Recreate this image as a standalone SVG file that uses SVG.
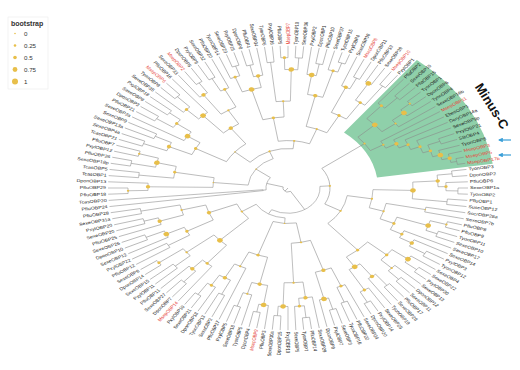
<svg xmlns="http://www.w3.org/2000/svg" width="520" height="370" viewBox="0 0 520 370">
<style>
#c path,#c circle{fill:none;stroke:#8a8a8a;stroke-width:.6}
#dots circle{fill:#e8bf4a}
.lb text{font-family:"Liberation Sans",Arial,sans-serif;font-size:5.3px;fill:#262626;dominant-baseline:central}
.lb .e{text-anchor:end}
.lb .r{fill:#e6453a}
.lg text{font-family:"Liberation Sans",Arial,sans-serif;fill:#333}
</style>
<defs>
<marker id="ah" viewBox="0 0 10 10" refX="8" refY="5" markerWidth="4" markerHeight="4" orient="auto"><path d="M0 0L10 5L0 10z" fill="#3a9fd8"/></marker>
</defs>
<rect width="520" height="370" fill="#fff"/>
<g transform="translate(288,188) scale(1,0.79)">
<path id="minusC-bg" d="M128.9 -162 A207 207 0 0 1 204.7 -30.6 L89 -13.3 A90 90 0 0 0 56 -70.4 Z" fill="#8fd0aa"/>
<g id="c">
<path d="M0 0H5" transform="rotate(126.9)"/>
<path d="M5 0H22" transform="rotate(195.27)"/>
<path d="M22 0H25" transform="rotate(173.75)"/>
<path d="M22 0H40" transform="rotate(216.8)"/>
<path d="M40 0H75" transform="rotate(185.31)"/>
<path d="M40 0H50" transform="rotate(248.28)"/>
<path d="M50 0H70" transform="rotate(220.7)"/>
<path d="M50 0H60" transform="rotate(275.86)"/>
<path d="M5 0H32" transform="rotate(58.52)"/>
<path d="M32 0H42" transform="rotate(-3.715)"/>
<path d="M32 0H38" transform="rotate(120.75)"/>
<path d="M42 0H95" transform="rotate(-36.28)"/>
<path d="M42 0H60" transform="rotate(28.85)"/>
<path d="M38 0H45" transform="rotate(94.38)"/>
<path d="M38 0H55" transform="rotate(147.11)"/>
<path d="M95 0H118" transform="rotate(-42.66)"/>
<path d="M118 0H140" transform="rotate(-48.125)"/>
<path d="M140 0H158" transform="rotate(-46.25)"/>
<path d="M118 0H135" transform="rotate(-37.19)"/>
<path d="M135 0H150" transform="rotate(-39.375)"/>
<path d="M150 0H162" transform="rotate(-41.25)"/>
<path d="M95 0H110" transform="rotate(-29.9)"/>
<path d="M110 0H122" transform="rotate(-27.29)"/>
<path d="M122 0H132" transform="rotate(-24.57)"/>
<path d="M132 0H142" transform="rotate(-21.64)"/>
<path d="M142 0H150" transform="rotate(-18.28)"/>
<path d="M150 0H163" transform="rotate(-21.25)"/>
<path d="M150 0H158" transform="rotate(-15.31)"/>
<path d="M158 0H166" transform="rotate(-13.125)"/>
<path d="M166 0H172" transform="rotate(-11.25)"/>
<path d="M60 0H85" transform="rotate(9.26)"/>
<path d="M85 0H125" transform="rotate(1.406)"/>
<path d="M125 0H150" transform="rotate(-3.4375)"/>
<path d="M150 0H165" transform="rotate(-6.25)"/>
<path d="M150 0H158" transform="rotate(-0.625)"/>
<path d="M158 0H170" transform="rotate(1.25)"/>
<path d="M125 0H160" transform="rotate(6.25)"/>
<path d="M85 0H100" transform="rotate(17.11)"/>
<path d="M100 0H140" transform="rotate(11.25)"/>
<path d="M100 0H115" transform="rotate(22.97)"/>
<path d="M115 0H148" transform="rotate(18.75)"/>
<path d="M148 0H165" transform="rotate(16.25)"/>
<path d="M148 0H160" transform="rotate(21.25)"/>
<path d="M115 0H128" transform="rotate(27.19)"/>
<path d="M128 0H142" transform="rotate(29.375)"/>
<path d="M142 0H160" transform="rotate(31.25)"/>
<path d="M60 0H105" transform="rotate(48.44)"/>
<path d="M105 0H130" transform="rotate(40.625)"/>
<path d="M130 0H150" transform="rotate(36.875)"/>
<path d="M150 0H165" transform="rotate(38.75)"/>
<path d="M130 0H145" transform="rotate(44.375)"/>
<path d="M145 0H160" transform="rotate(46.25)"/>
<path d="M105 0H120" transform="rotate(56.25)"/>
<path d="M120 0H140" transform="rotate(53.125)"/>
<path d="M140 0H158" transform="rotate(51.25)"/>
<path d="M120 0H150" transform="rotate(59.375)"/>
<path d="M150 0H165" transform="rotate(61.25)"/>
<path d="M45 0H70" transform="rotate(79.3)"/>
<path d="M70 0H110" transform="rotate(71.25)"/>
<path d="M110 0H135" transform="rotate(66.875)"/>
<path d="M135 0H155" transform="rotate(68.75)"/>
<path d="M110 0H145" transform="rotate(75.625)"/>
<path d="M145 0H160" transform="rotate(73.75)"/>
<path d="M70 0H120" transform="rotate(87.34)"/>
<path d="M120 0H140" transform="rotate(82.81)"/>
<path d="M140 0H150" transform="rotate(85.625)"/>
<path d="M150 0H165" transform="rotate(83.75)"/>
<path d="M120 0H150" transform="rotate(91.875)"/>
<path d="M150 0H162" transform="rotate(93.75)"/>
<path d="M45 0H90" transform="rotate(109.45)"/>
<path d="M90 0H125" transform="rotate(103.125)"/>
<path d="M125 0H150" transform="rotate(99.375)"/>
<path d="M150 0H160" transform="rotate(101.25)"/>
<path d="M125 0H140" transform="rotate(106.875)"/>
<path d="M140 0H158" transform="rotate(108.75)"/>
<path d="M90 0H110" transform="rotate(115.78)"/>
<path d="M110 0H130" transform="rotate(119.06)"/>
<path d="M130 0H150" transform="rotate(116.25)"/>
<path d="M130 0H145" transform="rotate(121.875)"/>
<path d="M145 0H162" transform="rotate(123.75)"/>
<path d="M55 0H95" transform="rotate(135.78)"/>
<path d="M95 0H125" transform="rotate(130.31)"/>
<path d="M125 0H140" transform="rotate(133.125)"/>
<path d="M140 0H158" transform="rotate(131.25)"/>
<path d="M95 0H130" transform="rotate(141.25)"/>
<path d="M130 0H150" transform="rotate(138.75)"/>
<path d="M130 0H160" transform="rotate(143.75)"/>
<path d="M55 0H85" transform="rotate(158.44)"/>
<path d="M85 0H115" transform="rotate(151.56)"/>
<path d="M115 0H140" transform="rotate(148.75)"/>
<path d="M115 0H135" transform="rotate(154.375)"/>
<path d="M135 0H155" transform="rotate(156.25)"/>
<path d="M85 0H110" transform="rotate(165.31)"/>
<path d="M110 0H135" transform="rotate(161.875)"/>
<path d="M135 0H150" transform="rotate(163.75)"/>
<path d="M110 0H150" transform="rotate(168.75)"/>
<path d="M75 0H140" transform="rotate(180.625)"/>
<path d="M140 0H160" transform="rotate(178.75)"/>
<path d="M75 0H115" transform="rotate(190)"/>
<path d="M115 0H150" transform="rotate(186.25)"/>
<path d="M115 0H135" transform="rotate(193.75)"/>
<path d="M135 0H160" transform="rotate(191.25)"/>
<path d="M135 0H155" transform="rotate(196.25)"/>
<path d="M70 0H105" transform="rotate(208.44)"/>
<path d="M105 0H130" transform="rotate(203.75)"/>
<path d="M130 0H155" transform="rotate(201.25)"/>
<path d="M130 0H148" transform="rotate(206.25)"/>
<path d="M105 0H120" transform="rotate(213.125)"/>
<path d="M120 0H138" transform="rotate(216.25)"/>
<path d="M138 0H158" transform="rotate(213.75)"/>
<path d="M138 0H152" transform="rotate(218.75)"/>
<path d="M70 0H95" transform="rotate(232.97)"/>
<path d="M95 0H125" transform="rotate(227.19)"/>
<path d="M125 0H142" transform="rotate(224.375)"/>
<path d="M142 0H160" transform="rotate(226.25)"/>
<path d="M95 0H115" transform="rotate(238.75)"/>
<path d="M115 0H145" transform="rotate(234.375)"/>
<path d="M145 0H160" transform="rotate(236.25)"/>
<path d="M115 0H140" transform="rotate(243.125)"/>
<path d="M140 0H158" transform="rotate(241.25)"/>
<path d="M60 0H90" transform="rotate(260.625)"/>
<path d="M90 0H130" transform="rotate(253.75)"/>
<path d="M130 0H150" transform="rotate(249.375)"/>
<path d="M150 0H163" transform="rotate(251.25)"/>
<path d="M130 0H145" transform="rotate(258.125)"/>
<path d="M145 0H160" transform="rotate(256.25)"/>
<path d="M90 0H110" transform="rotate(267.5)"/>
<path d="M110 0H160" transform="rotate(263.75)"/>
<path d="M110 0H150" transform="rotate(271.25)"/>
<path d="M150 0H165" transform="rotate(268.75)"/>
<path d="M150 0H165" transform="rotate(273.75)"/>
<path d="M60 0H80" transform="rotate(291.09)"/>
<path d="M80 0H120" transform="rotate(283.125)"/>
<path d="M120 0H145" transform="rotate(279.375)"/>
<path d="M145 0H160" transform="rotate(281.25)"/>
<path d="M120 0H155" transform="rotate(286.875)"/>
<path d="M155 0H167" transform="rotate(288.75)"/>
<path d="M80 0H105" transform="rotate(299.06)"/>
<path d="M105 0H140" transform="rotate(294.375)"/>
<path d="M140 0H155" transform="rotate(296.25)"/>
<path d="M105 0H130" transform="rotate(303.75)"/>
<path d="M130 0H155" transform="rotate(301.25)"/>
<path d="M130 0H160" transform="rotate(306.25)"/>
<circle r="5" pathLength="360" stroke-dasharray="136.75 400" transform="rotate(58.52)"/>
<circle r="22" pathLength="360" stroke-dasharray="43.05 400" transform="rotate(173.75)"/>
<circle r="40" pathLength="360" stroke-dasharray="62.97 400" transform="rotate(185.31)"/>
<circle r="50" pathLength="360" stroke-dasharray="55.16 400" transform="rotate(220.7)"/>
<circle r="25" pathLength="360" stroke-dasharray="2.5 400" transform="rotate(172.5)"/>
<circle r="32" pathLength="360" stroke-dasharray="124.47 400" transform="rotate(-3.715)"/>
<circle r="42" pathLength="360" stroke-dasharray="65.13 400" transform="rotate(-36.28)"/>
<circle r="38" pathLength="360" stroke-dasharray="52.73 400" transform="rotate(94.38)"/>
<circle r="95" pathLength="360" stroke-dasharray="12.76 400" transform="rotate(-42.66)"/>
<circle r="118" pathLength="360" stroke-dasharray="10.94 400" transform="rotate(-48.125)"/>
<circle r="140" pathLength="360" stroke-dasharray="3.75 400" transform="rotate(-50)"/>
<circle r="158" pathLength="360" stroke-dasharray="2.5 400" transform="rotate(-47.5)"/>
<circle r="135" pathLength="360" stroke-dasharray="4.375 400" transform="rotate(-39.375)"/>
<circle r="150" pathLength="360" stroke-dasharray="3.75 400" transform="rotate(-41.25)"/>
<circle r="162" pathLength="360" stroke-dasharray="2.5 400" transform="rotate(-42.5)"/>
<circle r="110" pathLength="360" stroke-dasharray="5.21 400" transform="rotate(-32.5)"/>
<circle r="122" pathLength="360" stroke-dasharray="5.43 400" transform="rotate(-30)"/>
<circle r="132" pathLength="360" stroke-dasharray="5.86 400" transform="rotate(-27.5)"/>
<circle r="142" pathLength="360" stroke-dasharray="6.72 400" transform="rotate(-25)"/>
<circle r="150" pathLength="360" stroke-dasharray="5.94 400" transform="rotate(-21.25)"/>
<circle r="163" pathLength="360" stroke-dasharray="2.5 400" transform="rotate(-22.5)"/>
<circle r="158" pathLength="360" stroke-dasharray="4.375 400" transform="rotate(-17.5)"/>
<circle r="166" pathLength="360" stroke-dasharray="3.75 400" transform="rotate(-15)"/>
<circle r="172" pathLength="360" stroke-dasharray="2.5 400" transform="rotate(-12.5)"/>
<circle r="60" pathLength="360" stroke-dasharray="39.18 400" transform="rotate(9.26)"/>
<circle r="85" pathLength="360" stroke-dasharray="15.7 400" transform="rotate(1.406)"/>
<circle r="125" pathLength="360" stroke-dasharray="9.69 400" transform="rotate(-3.4375)"/>
<circle r="150" pathLength="360" stroke-dasharray="5.625 400" transform="rotate(-6.25)"/>
<circle r="165" pathLength="360" stroke-dasharray="2.5 400" transform="rotate(-7.5)"/>
<circle r="158" pathLength="360" stroke-dasharray="3.75 400" transform="rotate(-2.5)"/>
<circle r="170" pathLength="360" stroke-dasharray="2.5 400" transform="rotate(0)"/>
<circle r="160" pathLength="360" stroke-dasharray="2.5 400" transform="rotate(5)"/>
<circle r="100" pathLength="360" stroke-dasharray="11.72 400" transform="rotate(11.25)"/>
<circle r="140" pathLength="360" stroke-dasharray="2.5 400" transform="rotate(10)"/>
<circle r="115" pathLength="360" stroke-dasharray="8.44 400" transform="rotate(18.75)"/>
<circle r="148" pathLength="360" stroke-dasharray="5 400" transform="rotate(16.25)"/>
<circle r="165" pathLength="360" stroke-dasharray="2.5 400" transform="rotate(15)"/>
<circle r="160" pathLength="360" stroke-dasharray="2.5 400" transform="rotate(20)"/>
<circle r="128" pathLength="360" stroke-dasharray="4.375 400" transform="rotate(25)"/>
<circle r="142" pathLength="360" stroke-dasharray="3.75 400" transform="rotate(27.5)"/>
<circle r="160" pathLength="360" stroke-dasharray="2.5 400" transform="rotate(30)"/>
<circle r="105" pathLength="360" stroke-dasharray="15.625 400" transform="rotate(40.625)"/>
<circle r="130" pathLength="360" stroke-dasharray="7.5 400" transform="rotate(36.875)"/>
<circle r="150" pathLength="360" stroke-dasharray="3.75 400" transform="rotate(35)"/>
<circle r="165" pathLength="360" stroke-dasharray="2.5 400" transform="rotate(37.5)"/>
<circle r="145" pathLength="360" stroke-dasharray="3.75 400" transform="rotate(42.5)"/>
<circle r="160" pathLength="360" stroke-dasharray="2.5 400" transform="rotate(45)"/>
<circle r="120" pathLength="360" stroke-dasharray="6.25 400" transform="rotate(53.125)"/>
<circle r="140" pathLength="360" stroke-dasharray="3.75 400" transform="rotate(51.25)"/>
<circle r="158" pathLength="360" stroke-dasharray="2.5 400" transform="rotate(50)"/>
<circle r="150" pathLength="360" stroke-dasharray="3.75 400" transform="rotate(57.5)"/>
<circle r="165" pathLength="360" stroke-dasharray="2.5 400" transform="rotate(60)"/>
<circle r="45" pathLength="360" stroke-dasharray="30.15 400" transform="rotate(79.3)"/>
<circle r="70" pathLength="360" stroke-dasharray="16.09 400" transform="rotate(71.25)"/>
<circle r="110" pathLength="360" stroke-dasharray="8.75 400" transform="rotate(66.875)"/>
<circle r="135" pathLength="360" stroke-dasharray="3.75 400" transform="rotate(65)"/>
<circle r="155" pathLength="360" stroke-dasharray="2.5 400" transform="rotate(67.5)"/>
<circle r="145" pathLength="360" stroke-dasharray="3.75 400" transform="rotate(73.75)"/>
<circle r="160" pathLength="360" stroke-dasharray="2.5 400" transform="rotate(72.5)"/>
<circle r="120" pathLength="360" stroke-dasharray="9.06 400" transform="rotate(82.81)"/>
<circle r="140" pathLength="360" stroke-dasharray="5.625 400" transform="rotate(80)"/>
<circle r="150" pathLength="360" stroke-dasharray="3.75 400" transform="rotate(83.75)"/>
<circle r="165" pathLength="360" stroke-dasharray="2.5 400" transform="rotate(82.5)"/>
<circle r="150" pathLength="360" stroke-dasharray="3.75 400" transform="rotate(90)"/>
<circle r="162" pathLength="360" stroke-dasharray="2.5 400" transform="rotate(92.5)"/>
<circle r="90" pathLength="360" stroke-dasharray="12.66 400" transform="rotate(103.125)"/>
<circle r="125" pathLength="360" stroke-dasharray="7.5 400" transform="rotate(99.375)"/>
<circle r="150" pathLength="360" stroke-dasharray="3.75 400" transform="rotate(97.5)"/>
<circle r="160" pathLength="360" stroke-dasharray="2.5 400" transform="rotate(100)"/>
<circle r="140" pathLength="360" stroke-dasharray="3.75 400" transform="rotate(105)"/>
<circle r="158" pathLength="360" stroke-dasharray="2.5 400" transform="rotate(107.5)"/>
<circle r="110" pathLength="360" stroke-dasharray="6.56 400" transform="rotate(112.5)"/>
<circle r="130" pathLength="360" stroke-dasharray="5.625 400" transform="rotate(116.25)"/>
<circle r="150" pathLength="360" stroke-dasharray="2.5 400" transform="rotate(115)"/>
<circle r="145" pathLength="360" stroke-dasharray="3.75 400" transform="rotate(120)"/>
<circle r="162" pathLength="360" stroke-dasharray="2.5 400" transform="rotate(122.5)"/>
<circle r="55" pathLength="360" stroke-dasharray="22.66 400" transform="rotate(135.78)"/>
<circle r="95" pathLength="360" stroke-dasharray="10.94 400" transform="rotate(130.31)"/>
<circle r="125" pathLength="360" stroke-dasharray="5.625 400" transform="rotate(127.5)"/>
<circle r="140" pathLength="360" stroke-dasharray="3.75 400" transform="rotate(131.25)"/>
<circle r="158" pathLength="360" stroke-dasharray="2.5 400" transform="rotate(130)"/>
<circle r="130" pathLength="360" stroke-dasharray="5 400" transform="rotate(138.75)"/>
<circle r="150" pathLength="360" stroke-dasharray="2.5 400" transform="rotate(137.5)"/>
<circle r="160" pathLength="360" stroke-dasharray="2.5 400" transform="rotate(142.5)"/>
<circle r="85" pathLength="360" stroke-dasharray="13.75 400" transform="rotate(151.56)"/>
<circle r="115" pathLength="360" stroke-dasharray="5.625 400" transform="rotate(148.75)"/>
<circle r="140" pathLength="360" stroke-dasharray="2.5 400" transform="rotate(147.5)"/>
<circle r="135" pathLength="360" stroke-dasharray="3.75 400" transform="rotate(152.5)"/>
<circle r="155" pathLength="360" stroke-dasharray="2.5 400" transform="rotate(155)"/>
<circle r="110" pathLength="360" stroke-dasharray="6.875 400" transform="rotate(161.875)"/>
<circle r="135" pathLength="360" stroke-dasharray="3.75 400" transform="rotate(160)"/>
<circle r="150" pathLength="360" stroke-dasharray="2.5 400" transform="rotate(162.5)"/>
<circle r="150" pathLength="360" stroke-dasharray="2.5 400" transform="rotate(167.5)"/>
<circle r="75" pathLength="360" stroke-dasharray="9.375 400" transform="rotate(180.625)"/>
<circle r="140" pathLength="360" stroke-dasharray="3.75 400" transform="rotate(178.75)"/>
<circle r="160" pathLength="360" stroke-dasharray="2.5 400" transform="rotate(177.5)"/>
<circle r="115" pathLength="360" stroke-dasharray="7.5 400" transform="rotate(186.25)"/>
<circle r="150" pathLength="360" stroke-dasharray="2.5 400" transform="rotate(185)"/>
<circle r="135" pathLength="360" stroke-dasharray="5 400" transform="rotate(191.25)"/>
<circle r="160" pathLength="360" stroke-dasharray="2.5 400" transform="rotate(190)"/>
<circle r="155" pathLength="360" stroke-dasharray="2.5 400" transform="rotate(195)"/>
<circle r="70" pathLength="360" stroke-dasharray="24.53 400" transform="rotate(208.44)"/>
<circle r="105" pathLength="360" stroke-dasharray="9.375 400" transform="rotate(203.75)"/>
<circle r="130" pathLength="360" stroke-dasharray="5 400" transform="rotate(201.25)"/>
<circle r="155" pathLength="360" stroke-dasharray="2.5 400" transform="rotate(200)"/>
<circle r="148" pathLength="360" stroke-dasharray="2.5 400" transform="rotate(205)"/>
<circle r="120" pathLength="360" stroke-dasharray="6.25 400" transform="rotate(210)"/>
<circle r="138" pathLength="360" stroke-dasharray="5 400" transform="rotate(213.75)"/>
<circle r="158" pathLength="360" stroke-dasharray="2.5 400" transform="rotate(212.5)"/>
<circle r="152" pathLength="360" stroke-dasharray="2.5 400" transform="rotate(217.5)"/>
<circle r="95" pathLength="360" stroke-dasharray="11.56 400" transform="rotate(227.19)"/>
<circle r="125" pathLength="360" stroke-dasharray="5.625 400" transform="rotate(224.375)"/>
<circle r="142" pathLength="360" stroke-dasharray="3.75 400" transform="rotate(222.5)"/>
<circle r="160" pathLength="360" stroke-dasharray="2.5 400" transform="rotate(225)"/>
<circle r="115" pathLength="360" stroke-dasharray="8.75 400" transform="rotate(234.375)"/>
<circle r="145" pathLength="360" stroke-dasharray="3.75 400" transform="rotate(232.5)"/>
<circle r="160" pathLength="360" stroke-dasharray="2.5 400" transform="rotate(235)"/>
<circle r="140" pathLength="360" stroke-dasharray="3.75 400" transform="rotate(241.25)"/>
<circle r="158" pathLength="360" stroke-dasharray="2.5 400" transform="rotate(240)"/>
<circle r="60" pathLength="360" stroke-dasharray="30.47 400" transform="rotate(260.625)"/>
<circle r="90" pathLength="360" stroke-dasharray="13.75 400" transform="rotate(253.75)"/>
<circle r="130" pathLength="360" stroke-dasharray="8.75 400" transform="rotate(249.375)"/>
<circle r="150" pathLength="360" stroke-dasharray="3.75 400" transform="rotate(247.5)"/>
<circle r="163" pathLength="360" stroke-dasharray="2.5 400" transform="rotate(250)"/>
<circle r="145" pathLength="360" stroke-dasharray="3.75 400" transform="rotate(256.25)"/>
<circle r="160" pathLength="360" stroke-dasharray="2.5 400" transform="rotate(255)"/>
<circle r="110" pathLength="360" stroke-dasharray="7.5 400" transform="rotate(263.75)"/>
<circle r="160" pathLength="360" stroke-dasharray="2.5 400" transform="rotate(262.5)"/>
<circle r="150" pathLength="360" stroke-dasharray="5 400" transform="rotate(268.75)"/>
<circle r="165" pathLength="360" stroke-dasharray="2.5 400" transform="rotate(267.5)"/>
<circle r="165" pathLength="360" stroke-dasharray="2.5 400" transform="rotate(272.5)"/>
<circle r="80" pathLength="360" stroke-dasharray="15.94 400" transform="rotate(283.125)"/>
<circle r="120" pathLength="360" stroke-dasharray="7.5 400" transform="rotate(279.375)"/>
<circle r="145" pathLength="360" stroke-dasharray="3.75 400" transform="rotate(277.5)"/>
<circle r="160" pathLength="360" stroke-dasharray="2.5 400" transform="rotate(280)"/>
<circle r="155" pathLength="360" stroke-dasharray="3.75 400" transform="rotate(285)"/>
<circle r="167" pathLength="360" stroke-dasharray="2.5 400" transform="rotate(287.5)"/>
<circle r="105" pathLength="360" stroke-dasharray="9.375 400" transform="rotate(294.375)"/>
<circle r="140" pathLength="360" stroke-dasharray="3.75 400" transform="rotate(292.5)"/>
<circle r="155" pathLength="360" stroke-dasharray="2.5 400" transform="rotate(295)"/>
<circle r="130" pathLength="360" stroke-dasharray="5 400" transform="rotate(301.25)"/>
<circle r="155" pathLength="360" stroke-dasharray="2.5 400" transform="rotate(300)"/>
<circle r="160" pathLength="360" stroke-dasharray="2.5 400" transform="rotate(305)"/>
<path d="M140 0H180" transform="rotate(-50)"/>
<path d="M158 0H180" transform="rotate(-47.5)"/>
<path d="M158 0H180" transform="rotate(-45)"/>
<path d="M162 0H180" transform="rotate(-42.5)"/>
<path d="M162 0H180" transform="rotate(-40)"/>
<path d="M150 0H180" transform="rotate(-37.5)"/>
<path d="M135 0H180" transform="rotate(-35)"/>
<path d="M110 0H180" transform="rotate(-32.5)"/>
<path d="M122 0H180" transform="rotate(-30)"/>
<path d="M132 0H180" transform="rotate(-27.5)"/>
<path d="M142 0H180" transform="rotate(-25)"/>
<path d="M163 0H180" transform="rotate(-22.5)"/>
<path d="M163 0H180" transform="rotate(-20)"/>
<path d="M158 0H180" transform="rotate(-17.5)"/>
<path d="M166 0H180" transform="rotate(-15)"/>
<path d="M172 0H180" transform="rotate(-12.5)"/>
<path d="M172 0H180" transform="rotate(-10)"/>
<path d="M165 0H180" transform="rotate(-7.5)"/>
<path d="M165 0H180" transform="rotate(-5)"/>
<path d="M158 0H180" transform="rotate(-2.5)"/>
<path d="M170 0H180"/>
<path d="M170 0H180" transform="rotate(2.5)"/>
<path d="M160 0H180" transform="rotate(5)"/>
<path d="M160 0H180" transform="rotate(7.5)"/>
<path d="M140 0H180" transform="rotate(10)"/>
<path d="M140 0H180" transform="rotate(12.5)"/>
<path d="M165 0H180" transform="rotate(15)"/>
<path d="M165 0H180" transform="rotate(17.5)"/>
<path d="M160 0H180" transform="rotate(20)"/>
<path d="M160 0H180" transform="rotate(22.5)"/>
<path d="M128 0H180" transform="rotate(25)"/>
<path d="M142 0H180" transform="rotate(27.5)"/>
<path d="M160 0H180" transform="rotate(30)"/>
<path d="M160 0H180" transform="rotate(32.5)"/>
<path d="M150 0H180" transform="rotate(35)"/>
<path d="M165 0H180" transform="rotate(37.5)"/>
<path d="M165 0H180" transform="rotate(40)"/>
<path d="M145 0H180" transform="rotate(42.5)"/>
<path d="M160 0H180" transform="rotate(45)"/>
<path d="M160 0H180" transform="rotate(47.5)"/>
<path d="M158 0H180" transform="rotate(50)"/>
<path d="M158 0H180" transform="rotate(52.5)"/>
<path d="M140 0H180" transform="rotate(55)"/>
<path d="M150 0H180" transform="rotate(57.5)"/>
<path d="M165 0H180" transform="rotate(60)"/>
<path d="M165 0H180" transform="rotate(62.5)"/>
<path d="M135 0H180" transform="rotate(65)"/>
<path d="M155 0H180" transform="rotate(67.5)"/>
<path d="M155 0H180" transform="rotate(70)"/>
<path d="M160 0H180" transform="rotate(72.5)"/>
<path d="M160 0H180" transform="rotate(75)"/>
<path d="M145 0H180" transform="rotate(77.5)"/>
<path d="M140 0H180" transform="rotate(80)"/>
<path d="M165 0H180" transform="rotate(82.5)"/>
<path d="M165 0H180" transform="rotate(85)"/>
<path d="M150 0H180" transform="rotate(87.5)"/>
<path d="M150 0H180" transform="rotate(90)"/>
<path d="M162 0H180" transform="rotate(92.5)"/>
<path d="M162 0H180" transform="rotate(95)"/>
<path d="M150 0H180" transform="rotate(97.5)"/>
<path d="M160 0H180" transform="rotate(100)"/>
<path d="M160 0H180" transform="rotate(102.5)"/>
<path d="M140 0H180" transform="rotate(105)"/>
<path d="M158 0H180" transform="rotate(107.5)"/>
<path d="M158 0H180" transform="rotate(110)"/>
<path d="M110 0H180" transform="rotate(112.5)"/>
<path d="M150 0H180" transform="rotate(115)"/>
<path d="M150 0H180" transform="rotate(117.5)"/>
<path d="M145 0H180" transform="rotate(120)"/>
<path d="M162 0H180" transform="rotate(122.5)"/>
<path d="M162 0H180" transform="rotate(125)"/>
<path d="M125 0H180" transform="rotate(127.5)"/>
<path d="M158 0H180" transform="rotate(130)"/>
<path d="M158 0H180" transform="rotate(132.5)"/>
<path d="M140 0H180" transform="rotate(135)"/>
<path d="M150 0H180" transform="rotate(137.5)"/>
<path d="M150 0H180" transform="rotate(140)"/>
<path d="M160 0H180" transform="rotate(142.5)"/>
<path d="M160 0H180" transform="rotate(145)"/>
<path d="M140 0H180" transform="rotate(147.5)"/>
<path d="M140 0H180" transform="rotate(150)"/>
<path d="M135 0H180" transform="rotate(152.5)"/>
<path d="M155 0H180" transform="rotate(155)"/>
<path d="M155 0H180" transform="rotate(157.5)"/>
<path d="M135 0H180" transform="rotate(160)"/>
<path d="M150 0H180" transform="rotate(162.5)"/>
<path d="M150 0H180" transform="rotate(165)"/>
<path d="M150 0H180" transform="rotate(167.5)"/>
<path d="M150 0H180" transform="rotate(170)"/>
<path d="M25 0H180" transform="rotate(172.5)"/>
<path d="M25 0H180" transform="rotate(175)"/>
<path d="M160 0H180" transform="rotate(177.5)"/>
<path d="M160 0H180" transform="rotate(180)"/>
<path d="M140 0H180" transform="rotate(182.5)"/>
<path d="M150 0H180" transform="rotate(185)"/>
<path d="M150 0H180" transform="rotate(187.5)"/>
<path d="M160 0H180" transform="rotate(190)"/>
<path d="M160 0H180" transform="rotate(192.5)"/>
<path d="M155 0H180" transform="rotate(195)"/>
<path d="M155 0H180" transform="rotate(197.5)"/>
<path d="M155 0H180" transform="rotate(200)"/>
<path d="M155 0H180" transform="rotate(202.5)"/>
<path d="M148 0H180" transform="rotate(205)"/>
<path d="M148 0H180" transform="rotate(207.5)"/>
<path d="M120 0H180" transform="rotate(210)"/>
<path d="M158 0H180" transform="rotate(212.5)"/>
<path d="M158 0H180" transform="rotate(215)"/>
<path d="M152 0H180" transform="rotate(217.5)"/>
<path d="M152 0H180" transform="rotate(220)"/>
<path d="M142 0H180" transform="rotate(222.5)"/>
<path d="M160 0H180" transform="rotate(225)"/>
<path d="M160 0H180" transform="rotate(227.5)"/>
<path d="M125 0H180" transform="rotate(230)"/>
<path d="M145 0H180" transform="rotate(232.5)"/>
<path d="M160 0H180" transform="rotate(235)"/>
<path d="M160 0H180" transform="rotate(237.5)"/>
<path d="M158 0H180" transform="rotate(240)"/>
<path d="M158 0H180" transform="rotate(242.5)"/>
<path d="M140 0H180" transform="rotate(245)"/>
<path d="M150 0H180" transform="rotate(247.5)"/>
<path d="M163 0H180" transform="rotate(250)"/>
<path d="M163 0H180" transform="rotate(252.5)"/>
<path d="M160 0H180" transform="rotate(255)"/>
<path d="M160 0H180" transform="rotate(257.5)"/>
<path d="M145 0H180" transform="rotate(260)"/>
<path d="M160 0H180" transform="rotate(262.5)"/>
<path d="M160 0H180" transform="rotate(265)"/>
<path d="M165 0H180" transform="rotate(267.5)"/>
<path d="M165 0H180" transform="rotate(270)"/>
<path d="M165 0H180" transform="rotate(272.5)"/>
<path d="M165 0H180" transform="rotate(275)"/>
<path d="M145 0H180" transform="rotate(277.5)"/>
<path d="M160 0H180" transform="rotate(280)"/>
<path d="M160 0H180" transform="rotate(282.5)"/>
<path d="M155 0H180" transform="rotate(285)"/>
<path d="M167 0H180" transform="rotate(287.5)"/>
<path d="M167 0H180" transform="rotate(290)"/>
<path d="M140 0H180" transform="rotate(292.5)"/>
<path d="M155 0H180" transform="rotate(295)"/>
<path d="M155 0H180" transform="rotate(297.5)"/>
<path d="M155 0H180" transform="rotate(300)"/>
<path d="M155 0H180" transform="rotate(302.5)"/>
<path d="M160 0H180" transform="rotate(305)"/>
<path d="M160 0H180" transform="rotate(307.5)"/>
</g>
<g id="dots">
<g id="nBn1" transform="rotate(-3.715)"><circle cx="42" r="1.2"/></g>
<g id="nA2" transform="rotate(216.8)"><circle cx="40" r=".8"/></g>
<g id="nA3" transform="rotate(248.28)"><circle cx="50" r="1.2"/></g>
<g id="nUL" transform="rotate(220.7)"><circle cx="70" r=".8"/></g>
<g id="nT" transform="rotate(275.86)"><circle cx="60" r="1.2"/></g>
<g id="nLf" transform="rotate(185.31)"><circle cx="75" r=".8"/></g>
<g id="nB" transform="rotate(94.38)"><circle cx="45" r=".8"/></g>
<g id="nLB" transform="rotate(147.11)"><circle cx="55" r="1.2"/></g>
<g id="nR" transform="rotate(28.85)"><circle cx="60" r="1.2"/></g>
<g id="nG" transform="rotate(-36.28)"><circle cx="95" r="1.2"/></g>
<g id="nG1" transform="rotate(-42.66)"><circle cx="118" r="2.8"/></g>
<g id="nG1a" transform="rotate(-48.125)"><circle cx="140" r="1.7"/></g>
<g id="nG1b" transform="rotate(-37.19)"><circle cx="135" r="1.2"/></g>
<g id="nG1b1" transform="rotate(-39.375)"><circle cx="150" r="2.8"/></g>
<g id="nG1b2" transform="rotate(-41.25)"><circle cx="162" r="1.2"/></g>
<g id="nGr" transform="rotate(-29.9)"><circle cx="110" r="1.2"/></g>
<g id="nGr2" transform="rotate(-27.29)"><circle cx="122" r="2.2"/></g>
<g id="nGr3" transform="rotate(-24.57)"><circle cx="132" r="1.7"/></g>
<g id="nGr4" transform="rotate(-21.64)"><circle cx="142" r="1.7"/></g>
<g id="nGr5" transform="rotate(-18.28)"><circle cx="150" r="1.7"/></g>
<g id="nGr7" transform="rotate(-15.31)"><circle cx="158" r="2.8"/></g>
<g id="nGr8" transform="rotate(-13.125)"><circle cx="166" r="2.2"/></g>
<g id="nRa" transform="rotate(9.26)"><circle cx="85" r="1.2"/></g>
<g id="nR1" transform="rotate(1.406)"><circle cx="125" r="2.8"/></g>
<g id="nR1a" transform="rotate(-3.4375)"><circle cx="150" r="2.2"/></g>
<g id="nR1c" transform="rotate(-0.625)"><circle cx="158" r="1.7"/></g>
<g id="nR2" transform="rotate(17.11)"><circle cx="100" r="1.2"/></g>
<g id="nR2a" transform="rotate(11.25)"><circle cx="140" r=".8"/></g>
<g id="nR2b" transform="rotate(22.97)"><circle cx="115" r="1.7"/></g>
<g id="nR2c" transform="rotate(18.75)"><circle cx="148" r="2.8"/></g>
<g id="nR2e" transform="rotate(16.25)"><circle cx="165" r="1.2"/></g>
<g id="nR2d" transform="rotate(27.19)"><circle cx="128" r="1.7"/></g>
<g id="nR2g" transform="rotate(29.375)"><circle cx="142" r="2.2"/></g>
<g id="nR3" transform="rotate(48.44)"><circle cx="105" r="1.7"/></g>
<g id="nR3a" transform="rotate(40.625)"><circle cx="130" r="1.7"/></g>
<g id="nR3c" transform="rotate(36.875)"><circle cx="150" r="2.8"/></g>
<g id="nR3d" transform="rotate(44.375)"><circle cx="145" r="1.2"/></g>
<g id="nR3b" transform="rotate(56.25)"><circle cx="120" r="2.8"/></g>
<g id="nR3g" transform="rotate(53.125)"><circle cx="140" r="2.2"/></g>
<g id="nR3h" transform="rotate(59.375)"><circle cx="150" r="1.7"/></g>
<g id="nB1" transform="rotate(79.3)"><circle cx="70" r="1.2"/></g>
<g id="nB1a" transform="rotate(71.25)"><circle cx="110" r="2.2"/></g>
<g id="nB1c" transform="rotate(66.875)"><circle cx="135" r="1.7"/></g>
<g id="nB1d" transform="rotate(75.625)"><circle cx="145" r="2.8"/></g>
<g id="nB1b" transform="rotate(87.34)"><circle cx="120" r="1.2"/></g>
<g id="nB1g" transform="rotate(82.81)"><circle cx="140" r="2.2"/></g>
<g id="nB1i" transform="rotate(85.625)"><circle cx="150" r="1.7"/></g>
<g id="nB1h" transform="rotate(91.875)"><circle cx="150" r="2.8"/></g>
<g id="nB2" transform="rotate(109.45)"><circle cx="90" r="1.7"/></g>
<g id="nB2a" transform="rotate(103.125)"><circle cx="125" r="2.2"/></g>
<g id="nB2c" transform="rotate(99.375)"><circle cx="150" r="2.8"/></g>
<g id="nB2d" transform="rotate(106.875)"><circle cx="140" r="1.2"/></g>
<g id="nB2b" transform="rotate(115.78)"><circle cx="110" r="1.2"/></g>
<g id="nB2g" transform="rotate(119.06)"><circle cx="130" r="2.2"/></g>
<g id="nB2i" transform="rotate(121.875)"><circle cx="145" r="1.7"/></g>
<g id="nLB1" transform="rotate(135.78)"><circle cx="95" r="2.8"/></g>
<g id="nLB1a" transform="rotate(130.31)"><circle cx="125" r="1.7"/></g>
<g id="nLB1c" transform="rotate(133.125)"><circle cx="140" r="2.2"/></g>
<g id="nLB1b" transform="rotate(141.25)"><circle cx="130" r="1.2"/></g>
<g id="nLB1f" transform="rotate(143.75)"><circle cx="160" r="1.7"/></g>
<g id="nLB2" transform="rotate(158.44)"><circle cx="85" r="2.2"/></g>
<g id="nLB2a" transform="rotate(151.56)"><circle cx="115" r="1.7"/></g>
<g id="nLB2d" transform="rotate(154.375)"><circle cx="135" r="2.8"/></g>
<g id="nLB2b" transform="rotate(165.31)"><circle cx="110" r="1.2"/></g>
<g id="nLB2f" transform="rotate(161.875)"><circle cx="135" r="2.2"/></g>
<g id="nLf1" transform="rotate(180.625)"><circle cx="140" r="2.2"/></g>
<g id="nLf1a" transform="rotate(178.75)"><circle cx="160" r="1.2"/></g>
<g id="nLf2" transform="rotate(190)"><circle cx="115" r="1.7"/></g>
<g id="nLf2b" transform="rotate(193.75)"><circle cx="135" r="2.8"/></g>
<g id="nLf2d" transform="rotate(196.25)"><circle cx="155" r="1.2"/></g>
<g id="nUL1" transform="rotate(208.44)"><circle cx="105" r="1.7"/></g>
<g id="nUL1a" transform="rotate(203.75)"><circle cx="130" r="2.2"/></g>
<g id="nUL1b" transform="rotate(213.125)"><circle cx="120" r="2.8"/></g>
<g id="nUL1e" transform="rotate(216.25)"><circle cx="138" r="1.7"/></g>
<g id="nUL2" transform="rotate(232.97)"><circle cx="95" r="2.2"/></g>
<g id="nUL2a" transform="rotate(227.19)"><circle cx="125" r="2.8"/></g>
<g id="nUL2c" transform="rotate(224.375)"><circle cx="142" r="1.7"/></g>
<g id="nUL2b" transform="rotate(238.75)"><circle cx="115" r="1.2"/></g>
<g id="nUL2e" transform="rotate(234.375)"><circle cx="145" r="2.2"/></g>
<g id="nUL2f" transform="rotate(243.125)"><circle cx="140" r="1.7"/></g>
<g id="nT1" transform="rotate(260.625)"><circle cx="90" r="1.7"/></g>
<g id="nT1a" transform="rotate(253.75)"><circle cx="130" r="2.8"/></g>
<g id="nT1c" transform="rotate(249.375)"><circle cx="150" r="1.7"/></g>
<g id="nT1d" transform="rotate(258.125)"><circle cx="145" r="2.2"/></g>
<g id="nT1b" transform="rotate(267.5)"><circle cx="110" r="1.2"/></g>
<g id="nT1h" transform="rotate(271.25)"><circle cx="150" r="2.8"/></g>
<g id="nT1i" transform="rotate(268.75)"><circle cx="165" r="1.7"/></g>
<g id="nT2" transform="rotate(291.09)"><circle cx="80" r="1.2"/></g>
<g id="nT2a" transform="rotate(283.125)"><circle cx="120" r="2.2"/></g>
<g id="nT2c" transform="rotate(279.375)"><circle cx="145" r="2.8"/></g>
<g id="nT2d" transform="rotate(286.875)"><circle cx="155" r="1.7"/></g>
<g id="nT2b" transform="rotate(299.06)"><circle cx="105" r="1.7"/></g>
<g id="nT2g" transform="rotate(294.375)"><circle cx="140" r="2.2"/></g>
<g id="nT2h" transform="rotate(303.75)"><circle cx="130" r="1.7"/></g>
<g id="nT2j" transform="rotate(301.25)"><circle cx="155" r="2.8"/></g>
</g>
<g class="lb">
<g id="n0" transform="rotate(-50)"><text x="182">PflaOBP2</text></g>
<g id="n1" transform="rotate(-47.5)"><text x="182">SexeOBP19</text></g>
<g id="n2" transform="rotate(-45)"><text x="182">PflaOBP15</text></g>
<g id="n3" transform="rotate(-42.5)"><text x="182">TyonOBP1</text></g>
<g id="n4" transform="rotate(-40)"><text x="182">DponOBP6</text></g>
<g id="n5" transform="rotate(-37.5)"><text x="182">TyonOBP4</text></g>
<g id="n6" transform="rotate(-35)"><text x="182">SexeOBP16b</text></g>
<g id="n7" transform="rotate(-32.5)"><text x="182" class="r">MsepOBP11</text></g>
<g id="n8" transform="rotate(-30)"><text x="182">EbesOBP1</text></g>
<g id="n9" transform="rotate(-27.5)"><text x="182">DoryOBP14a</text></g>
<g id="n10" transform="rotate(-25)"><text x="182">SexeOBP9p</text></g>
<g id="n11" transform="rotate(-22.5)"><text x="182">PxylOBP21</text></g>
<g id="n12" transform="rotate(-20)"><text x="182">SlitOBP4</text></g>
<g id="n13" transform="rotate(-17.5)"><text x="182">TyonOBP8</text></g>
<g id="n14" transform="rotate(-15)"><text x="182" class="r">MsepOBP3</text></g>
<g id="n15" transform="rotate(-12.5)"><text x="182" class="r">MsepOBP5</text></g>
<g id="n16" transform="rotate(-10)"><text x="182" class="r">MsepOBP17b</text></g>
<g id="n17" transform="rotate(-7.5)"><text x="182">TyonOBP3</text></g>
<g id="n18" transform="rotate(-5)"><text x="182">DponOBP2</text></g>
<g id="n19" transform="rotate(-2.5)"><text x="182">PfluOBP6</text></g>
<g id="n20"><text x="182">SexeOBP1a</text></g>
<g id="n21" transform="rotate(2.5)"><text x="182">TyonOBP2</text></g>
<g id="n22" transform="rotate(5)"><text x="182">PfluOBP1</text></g>
<g id="n23" transform="rotate(7.5)"><text x="182">SuseOBP12</text></g>
<g id="n24" transform="rotate(10)"><text x="182">SocrOBP28a</text></g>
<g id="n25" transform="rotate(12.5)"><text x="182">SexeOBP7b</text></g>
<g id="n26" transform="rotate(15)"><text x="182">PfluOBP8</text></g>
<g id="n27" transform="rotate(17.5)"><text x="182">PfluOBP9</text></g>
<g id="n28" transform="rotate(20)"><text x="182">TyonOBP11</text></g>
<g id="n29" transform="rotate(22.5)"><text x="182">SexeOBP10</text></g>
<g id="n30" transform="rotate(25)"><text x="182">SexeOBP17</text></g>
<g id="n31" transform="rotate(27.5)"><text x="182">SexeOBP14</text></g>
<g id="n32" transform="rotate(30)"><text x="182">PxylOBP3</text></g>
<g id="n33" transform="rotate(32.5)"><text x="182">TyonOBP12</text></g>
<g id="n34" transform="rotate(35)"><text x="182">SexeOBP4</text></g>
<g id="n35" transform="rotate(37.5)"><text x="182">SexeOBP22</text></g>
<g id="n36" transform="rotate(40)"><text x="182">PxylOBP30</text></g>
<g id="n37" transform="rotate(42.5)"><text x="182">SexeOBP13</text></g>
<g id="n38" transform="rotate(45)"><text x="182">DponOBP12</text></g>
<g id="n39" transform="rotate(47.5)"><text x="182">SexeOBP11</text></g>
<g id="n40" transform="rotate(50)"><text x="182">PfluOBP17</text></g>
<g id="n41" transform="rotate(52.5)"><text x="182">SexeOBP28</text></g>
<g id="n42" transform="rotate(55)"><text x="182">TyonOBP19</text></g>
<g id="n43" transform="rotate(57.5)"><text x="182">SexeOBP25</text></g>
<g id="n44" transform="rotate(60)"><text x="182">PxylOBP14</text></g>
<g id="n45" transform="rotate(62.5)"><text x="182">DponOBP20</text></g>
<g id="n46" transform="rotate(65)"><text x="182">SexeOBP24</text></g>
<g id="n47" transform="rotate(67.5)"><text x="182">PfluOBP22</text></g>
<g id="n48" transform="rotate(70)"><text x="182">TyonOBP16</text></g>
<g id="n49" transform="rotate(72.5)"><text x="182">SexeOBP3</text></g>
<g id="n50" transform="rotate(75)"><text x="182">PxylOBP7</text></g>
<g id="n51" transform="rotate(77.5)"><text x="182">DponOBP9</text></g>
<g id="n52" transform="rotate(80)"><text x="182">SexeOBP29</text></g>
<g id="n53" transform="rotate(82.5)"><text x="182">PfluOBP14</text></g>
<g id="n54" transform="rotate(85)"><text x="182">TyonOBP7</text></g>
<g id="n55" transform="rotate(87.5)"><text x="182">SexeOBP5</text></g>
<g id="n56" transform="rotate(90)"><text x="182">PxylOBP10</text></g>
<g id="n57" transform="rotate(-87.5)"><text x="-182" class="e">DponOBP15</text></g>
<g id="n58" transform="rotate(-85)"><text x="-182" class="e">SexeOBP30a</text></g>
<g id="n59" transform="rotate(-82.5)"><text x="-182" class="e">PfluOBP3</text></g>
<g id="n60" transform="rotate(-80)"><text x="-182" class="e r">MsepOBP9</text></g>
<g id="n61" transform="rotate(-77.5)"><text x="-182" class="e">DponOBP4</text></g>
<g id="n62" transform="rotate(-75)"><text x="-182" class="e">TyonOBP5</text></g>
<g id="n63" transform="rotate(-72.5)"><text x="-182" class="e">SexeOBP18</text></g>
<g id="n64" transform="rotate(-70)"><text x="-182" class="e">PxylOBP5</text></g>
<g id="n65" transform="rotate(-67.5)"><text x="-182" class="e">PfluOBP27</text></g>
<g id="n66" transform="rotate(-65)"><text x="-182" class="e">SexeOBP2</text></g>
<g id="n67" transform="rotate(-62.5)"><text x="-182" class="e">TyonOBP13</text></g>
<g id="n68" transform="rotate(-60)"><text x="-182" class="e">DponOBP18</text></g>
<g id="n69" transform="rotate(-57.5)"><text x="-182" class="e">SexeOBP21</text></g>
<g id="n70" transform="rotate(-55)"><text x="-182" class="e">PxylOBP19</text></g>
<g id="n71" transform="rotate(-52.5)"><text x="-182" class="e r">MsepOBP14</text></g>
<g id="n72" transform="rotate(-50)"><text x="-182" class="e">DponOBP7</text></g>
<g id="n73" transform="rotate(-47.5)"><text x="-182" class="e">SexeOBP27</text></g>
<g id="n74" transform="rotate(-45)"><text x="-182" class="e">PfluOBP11</text></g>
<g id="n75" transform="rotate(-42.5)"><text x="-182" class="e">PxylOBP11</text></g>
<g id="n76" transform="rotate(-40)"><text x="-182" class="e">SexeOBP15</text></g>
<g id="n77" transform="rotate(-37.5)"><text x="-182" class="e">DponOBP14</text></g>
<g id="n78" transform="rotate(-35)"><text x="-182" class="e">SexeOBP6</text></g>
<g id="n79" transform="rotate(-32.5)"><text x="-182" class="e">PfluOBP12</text></g>
<g id="n80" transform="rotate(-30)"><text x="-182" class="e">PxylOBP22</text></g>
<g id="n81" transform="rotate(-27.5)"><text x="-182" class="e">SexeOBP12</text></g>
<g id="n82" transform="rotate(-25)"><text x="-182" class="e">DponOBP10</text></g>
<g id="n83" transform="rotate(-22.5)"><text x="-182" class="e">SexeOBP26</text></g>
<g id="n84" transform="rotate(-20)"><text x="-182" class="e">PfluOBP25</text></g>
<g id="n85" transform="rotate(-17.5)"><text x="-182" class="e">SexeOBP20</text></g>
<g id="n86" transform="rotate(-15)"><text x="-182" class="e">PxylOBP20</text></g>
<g id="n87" transform="rotate(-12.5)"><text x="-182" class="e">SexeOBP31a</text></g>
<g id="n88" transform="rotate(-10)"><text x="-182" class="e">PfluOBP28</text></g>
<g id="n89" transform="rotate(-7.5)"><text x="-182" class="e">PfluOBP24</text></g>
<g id="n90" transform="rotate(-5)"><text x="-182" class="e">TcasOBP20</text></g>
<g id="n91" transform="rotate(-2.5)"><text x="-182" class="e">PfluOBP18</text></g>
<g id="n92"><text x="-182" class="e">PfluOBP29</text></g>
<g id="n93" transform="rotate(2.5)"><text x="-182" class="e">DponOBP13</text></g>
<g id="n94" transform="rotate(5)"><text x="-182" class="e">TcasOBP1</text></g>
<g id="n95" transform="rotate(7.5)"><text x="-182" class="e">TcasOBP5</text></g>
<g id="n96" transform="rotate(10)"><text x="-182" class="e">SexeOBP18p</text></g>
<g id="n97" transform="rotate(12.5)"><text x="-182" class="e">PfluOBP26</text></g>
<g id="n98" transform="rotate(15)"><text x="-182" class="e">PxylOBP12</text></g>
<g id="n99" transform="rotate(17.5)"><text x="-182" class="e">PfluOBP7</text></g>
<g id="n100" transform="rotate(20)"><text x="-182" class="e">TcasOBP21</text></g>
<g id="n101" transform="rotate(22.5)"><text x="-182" class="e">SexeOBP4a</text></g>
<g id="n102" transform="rotate(25)"><text x="-182" class="e">SexeOBP13a</text></g>
<g id="n103" transform="rotate(27.5)"><text x="-182" class="e">SexeOBP9</text></g>
<g id="n104" transform="rotate(30)"><text x="-182" class="e">SexeOBP2a</text></g>
<g id="n105" transform="rotate(32.5)"><text x="-182" class="e">PfluOBP21</text></g>
<g id="n106" transform="rotate(35)"><text x="-182" class="e">DponOBP3</text></g>
<g id="n107" transform="rotate(37.5)"><text x="-182" class="e">SexeOBP8</text></g>
<g id="n108" transform="rotate(40)"><text x="-182" class="e">PxylOBP18</text></g>
<g id="n109" transform="rotate(42.5)"><text x="-182" class="e">SexeOBP35</text></g>
<g id="n110" transform="rotate(45)"><text x="-182" class="e">TyonOBP9</text></g>
<g id="n111" transform="rotate(47.5)"><text x="-182" class="e r">MsepOBP6</text></g>
<g id="n112" transform="rotate(50)"><text x="-182" class="e">PfluOBP16</text></g>
<g id="n113" transform="rotate(52.5)"><text x="-182" class="e">SexeOBP33</text></g>
<g id="n114" transform="rotate(55)"><text x="-182" class="e r">MsepOBP2</text></g>
<g id="n115" transform="rotate(57.5)"><text x="-182" class="e">DponOBP5</text></g>
<g id="n116" transform="rotate(60)"><text x="-182" class="e">PxylOBP9</text></g>
<g id="n117" transform="rotate(62.5)"><text x="-182" class="e">SexeOBP32</text></g>
<g id="n118" transform="rotate(65)"><text x="-182" class="e">PfluOBP20</text></g>
<g id="n119" transform="rotate(67.5)"><text x="-182" class="e">TyonOBP14</text></g>
<g id="n120" transform="rotate(70)"><text x="-182" class="e">SexeOBP23</text></g>
<g id="n121" transform="rotate(72.5)"><text x="-182" class="e">PxylOBP15</text></g>
<g id="n122" transform="rotate(75)"><text x="-182" class="e">DponOBP8</text></g>
<g id="n123" transform="rotate(77.5)"><text x="-182" class="e">PfluOBP4</text></g>
<g id="n124" transform="rotate(80)"><text x="-182" class="e">SexeOBP34</text></g>
<g id="n125" transform="rotate(82.5)"><text x="-182" class="e">TyonOBP6</text></g>
<g id="n126" transform="rotate(85)"><text x="-182" class="e">PxylOBP16</text></g>
<g id="n127" transform="rotate(87.5)"><text x="-182" class="e">PfluOBP5</text></g>
<g id="n128" transform="rotate(270)"><text x="182" class="r">MsepOBP7</text></g>
<g id="n129" transform="rotate(272.5)"><text x="182">TyonOBP10</text></g>
<g id="n130" transform="rotate(275)"><text x="182">SexeOBP36</text></g>
<g id="n131" transform="rotate(277.5)"><text x="182">PxylOBP2</text></g>
<g id="n132" transform="rotate(280)"><text x="182">DponOBP1</text></g>
<g id="n133" transform="rotate(282.5)"><text x="182">PfluOBP10</text></g>
<g id="n134" transform="rotate(285)"><text x="182">SexeOBP37</text></g>
<g id="n135" transform="rotate(287.5)"><text x="182">TyonOBP15</text></g>
<g id="n136" transform="rotate(290)"><text x="182">PxylOBP4</text></g>
<g id="n137" transform="rotate(292.5)"><text x="182">SexeOBP38</text></g>
<g id="n138" transform="rotate(295)"><text x="182" class="r">MsepOBP8</text></g>
<g id="n139" transform="rotate(297.5)"><text x="182">DponOBP11</text></g>
<g id="n140" transform="rotate(300)"><text x="182">PfluOBP19</text></g>
<g id="n141" transform="rotate(302.5)"><text x="182">SexeOBP39</text></g>
<g id="n142" transform="rotate(305)"><text x="182" class="r">MsepOBP10</text></g>
<g id="n143" transform="rotate(307.5)"><text x="182">PxylOBP1</text></g>
</g>
</g>
<g id="minusC-label"><text x="492" y="106" transform="rotate(58 492 106)" text-anchor="middle" dominant-baseline="central" font-family="Liberation Sans, Arial, sans-serif" font-weight="bold" font-size="13" fill="#111">Minus-C</text></g>
<g id="arrows" stroke="#3a9fd8" stroke-width="1.2" fill="none">
<path d="M511 140H499" marker-end="url(#ah)"/>
<path d="M511 155H499" marker-end="url(#ah)"/>
</g>
<g id="legend" class="lg">
<rect x="8" y="17" width="40" height="72" fill="#fff" stroke="#ececec" stroke-width=".6"/>
<text x="11" y="26" font-size="7" font-weight="bold">bootstrap</text>
<g fill="#e8bf4a"><circle cx="15" cy="33.5" r=".8"/><circle cx="15" cy="45.5" r="1.3"/><circle cx="15" cy="57.5" r="1.8"/><circle cx="15" cy="69.5" r="2.4"/><circle cx="15" cy="81.5" r="3"/></g>
<g font-size="6.2"><text x="24" y="35.7">0</text><text x="24" y="47.7">0.25</text><text x="24" y="59.7">0.5</text><text x="24" y="71.7">0.75</text><text x="24" y="83.7">1</text></g>
</g>
</svg>
